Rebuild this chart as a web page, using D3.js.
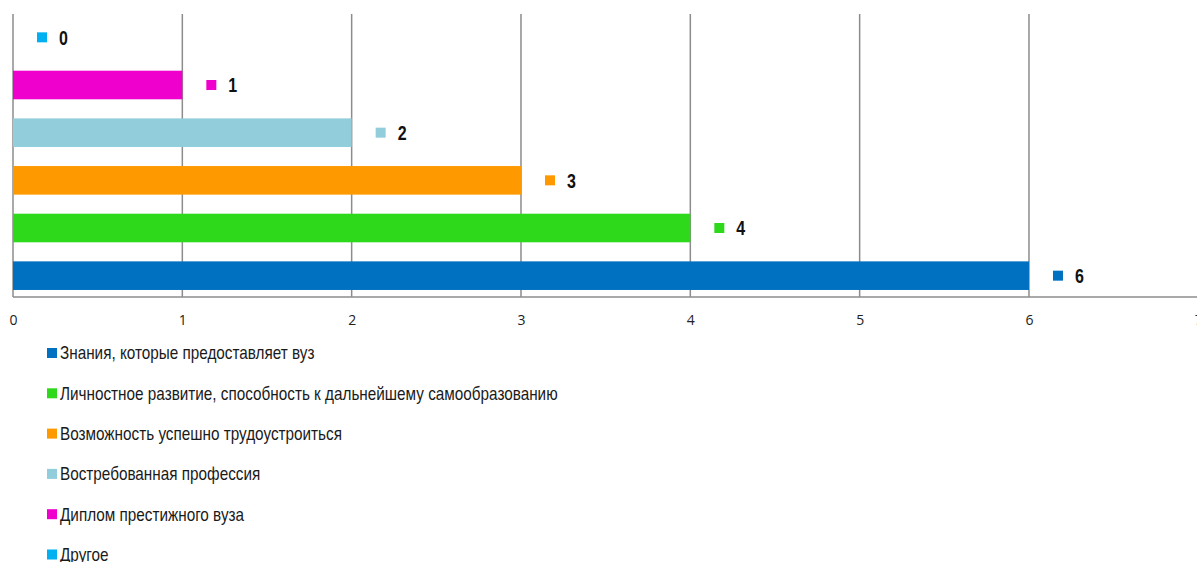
<!DOCTYPE html>
<meta charset="utf-8">
<style>
body { margin: 0; background: #fff; }
.tick text { font-family: "Open Sans", sans-serif; font-size: 14px; fill: #222; }
.vals { font-family: "Liberation Sans", Arial, sans-serif; font-size: 20px; font-weight: bold; fill: #111; }
.legend text { font-family: "Liberation Sans", Arial, sans-serif; font-size: 18px; fill: #1a1a1a; }
</style>
<body>
<svg width="1197" height="562"></svg>
<script src="https://cdn.jsdelivr.net/npm/d3@7"></script>
<script>

// categories from top to bottom
var categories = ["Другое", "Диплом престижного вуза", "Востребованная профессия",
                  "Возможность успешно трудоустроиться",
                  "Личностное развитие, способность к дальнейшему самообразованию",
                  "Знания, которые предоставляет вуз"];
var values = [0, 1, 2, 3, 4, 6];
var colors = ["#00b0f0", "#f000cc", "#92cddc", "#ff9900", "#2ed91b", "#0070c0"];
var ticks = [0, 1, 2, 3, 4, 5, 6, 7];

var svg = d3.select("svg");

var x = d3.scaleLinear()
    .domain([0, 7])
    .range([13, 13 + 7 * 169.33]);

var y = d3.scaleBand()
    .domain(categories)
    .range([13.5, 299.5])
    .paddingInner(0.4)
    .paddingOuter(0.2);

var plotTop = 14, plotBottom = 297;
var narrow = 0.85; // Arial Narrow look

// vertical grid lines
svg.append("g")
  .selectAll("line")
  .data(ticks)
  .enter().append("line")
    .attr("x1", function(d) { return x(d); })
    .attr("x2", function(d) { return x(d); })
    .attr("y1", plotTop)
    .attr("y2", plotBottom)
    .attr("stroke", "#8c8c8c")
    .attr("stroke-width", 1.5);

// bars
svg.append("g")
  .selectAll("rect")
  .data(values)
  .enter().append("rect")
    .attr("x", x(0))
    .attr("y", function(d, i) { return y(categories[i]); })
    .attr("width", function(d) { return x(d) - x(0); })
    .attr("height", y.bandwidth())
    .attr("fill", function(d, i) { return colors[i]; });

// x axis
var axis = svg.append("g")
    .attr("transform", "translate(0," + plotBottom + ")")
    .call(d3.axisBottom(x).tickValues(ticks).tickSize(0).tickPadding(18).tickFormat(d3.format("d")));
axis.select(".domain").attr("stroke", "#8c8c8c").attr("stroke-width", 1.5)
    .attr("d", "M" + x(0) + ",0H1197");

// value labels with small squares
var lab = svg.append("g")
  .selectAll("g")
  .data(values)
  .enter().append("g")
    .attr("transform", function(d, i) {
      return "translate(" + x(d) + "," + (y(categories[i]) + y.bandwidth() / 2) + ")";
    });
lab.append("rect")
    .attr("x", 24).attr("y", -5)
    .attr("width", 10).attr("height", 10)
    .attr("fill", function(d, i) { return colors[i]; });
lab.append("text")
    .attr("class", "vals")
    .attr("transform", "translate(46,0) scale(0.8,1)")
    .attr("dy", "0.36em")
    .text(function(d) { return d; });

// legend (reverse order)
var order = d3.range(categories.length).reverse();
var leg = svg.append("g")
    .attr("class", "legend")
  .selectAll("g")
  .data(order)
  .enter().append("g")
    .attr("transform", function(d, i) { return "translate(47," + (353 + i * 40.3) + ")"; });
leg.append("rect")
    .attr("y", -5).attr("width", 10).attr("height", 10)
    .attr("fill", function(d) { return colors[d]; });
leg.append("text")
    .attr("transform", "translate(13,0) scale(" + narrow + ",1)")
    .attr("dy", "0.36em")
    .text(function(d) { return categories[d]; });

</script>
</body>
